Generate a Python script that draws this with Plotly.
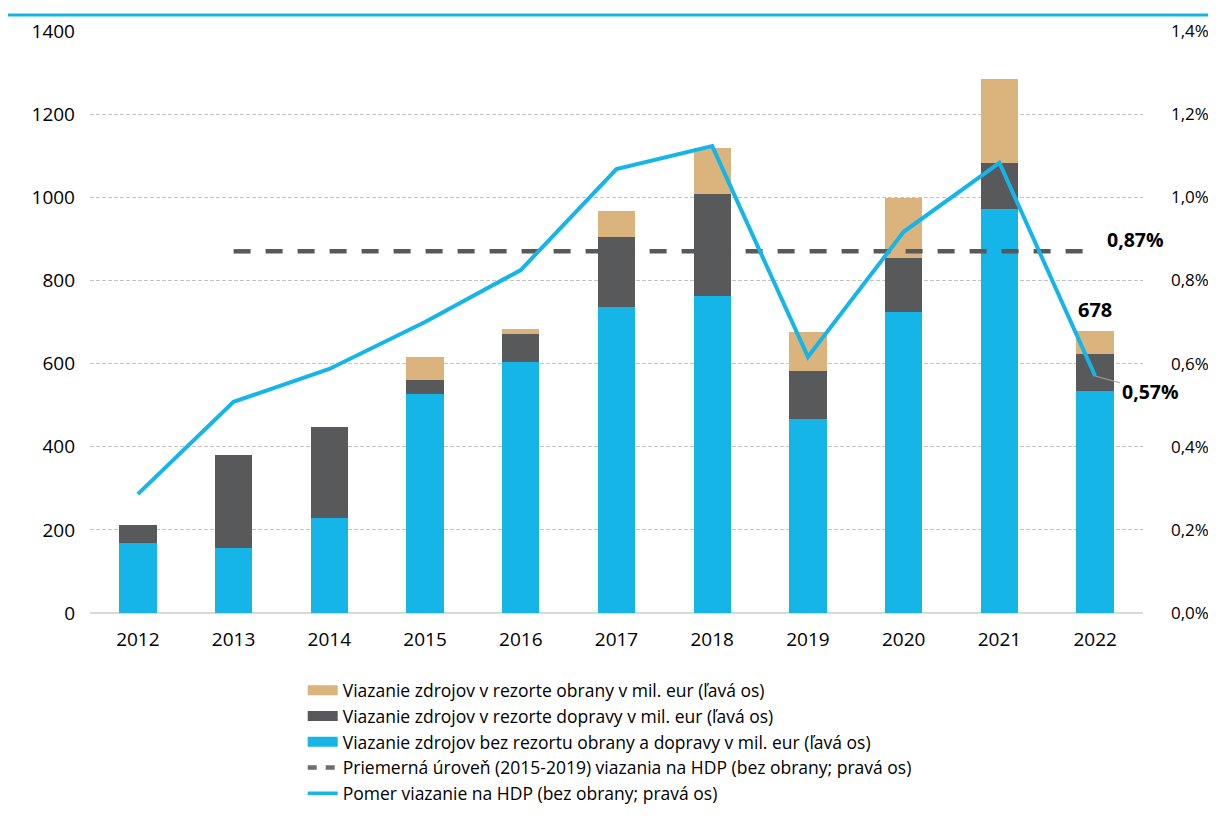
import plotly.graph_objects as go

# -- Data --
years = ["2012", "2013", "2014", "2015", "2016", "2017", "2018", "2019", "2020", "2021", "2022"]
other = [168, 156, 229, 527, 604, 736, 763, 467, 723, 971, 535]       # bez obrany a dopravy
transport = [44, 224, 218, 33, 67, 168, 245, 116, 130, 112, 88]       # rezort dopravy
defense = [0, 0, 0, 56, 12, 63, 111, 93, 146, 202, 55]               # rezort obrany
ratio_gdp = [0.286, 0.508, 0.587, 0.700, 0.825, 1.068, 1.123, 0.616, 0.917, 1.083, 0.570]  # % HDP
avg_years = years[1:]
avg_level = [0.87] * len(avg_years)

left_ticks = [0, 200, 400, 600, 800, 1000, 1200, 1400]
right_ticks = [0.0, 0.2, 0.4, 0.6, 0.8, 1.0, 1.2, 1.4]
right_labels = ["0,0%", "0,2%", "0,4%", "0,6%", "0,8%", "1,0%", "1,2%", "1,4%"]

BLUE = "#15b5e8"
DARK = "#58595b"
TAN = "#dbb37d"
FONT = "Open Sans"

NAME_DEF = "Viazanie zdrojov v rezorte obrany v mil. eur (ľavá os)"
NAME_TRA = "Viazanie zdrojov v rezorte dopravy v mil. eur (ľavá os)"
NAME_OTH = "Viazanie zdrojov bez rezortu obrany a dopravy v mil. eur (ľavá os)"
NAME_AVG = "Priemerná úroveň (2015-2019) viazania na HDP (bez obrany; pravá os)"
NAME_RAT = "Pomer viazanie na HDP (bez obrany; pravá os)"

fig = go.Figure()

# -- stacked bars (legend shown via swatch traces below) --
for vals, col, nm in [(other, BLUE, NAME_OTH), (transport, DARK, NAME_TRA), (defense, TAN, NAME_DEF)]:
    fig.add_trace(go.Bar(x=years, y=vals, name=nm, marker=dict(color=col, line_width=0),
                         showlegend=False))

fig.add_trace(go.Scatter(
    x=avg_years, y=avg_level, yaxis="y2", mode="lines", name=NAME_AVG,
    line=dict(color=DARK, width=4.5, dash="17px,15px"), showlegend=False,
))
fig.add_trace(go.Scatter(
    x=years, y=ratio_gdp, yaxis="y2", mode="lines", name=NAME_RAT,
    line=dict(color=BLUE, width=4), showlegend=False,
))

# legend swatches, wide rectangles like the original
for nm, col, w, dash in [(NAME_DEF, TAN, 11, "solid"), (NAME_TRA, DARK, 11, "solid"),
                         (NAME_OTH, BLUE, 11, "solid"), (NAME_AVG, "#6d6e70", 4.5, "9px,9px"),
                         (NAME_RAT, BLUE, 3.5, "solid")]:
    fig.add_trace(go.Scatter(x=[None], y=[None], mode="lines", name=nm,
                             line=dict(color=col, width=w, dash=dash), hoverinfo="skip"))

# -- Labels --
total_2022 = other[-1] + transport[-1] + defense[-1]
last = len(years) - 1
fig.add_annotation(x=last, y=total_2022, xref="x", yref="y", text="<b>%d</b>" % total_2022,
                   yanchor="bottom", showarrow=False, yshift=6,
                   font=dict(size=20, color="#000000", family=FONT))
fig.add_annotation(x=last, y=avg_level[-1], xref="x", yref="y2", text="<b>0,87%</b>",
                   xanchor="left", showarrow=False, xshift=10, yshift=12,
                   font=dict(size=19.5, color="#000000", family=FONT))
fig.add_annotation(x=last, y=ratio_gdp[-1], xref="x", yref="y2", text="<b>0,57%</b>",
                   showarrow=True, arrowhead=0, arrowwidth=1, arrowcolor="#a6a6a6",
                   ax=55, ay=15, font=dict(size=19.5, color="#000000", family=FONT))

# top accent line
fig.add_shape(type="line", xref="paper", yref="paper",
              x0=-0.1, x1=1.08, y0=1.0275, y1=1.0275,
              line=dict(color=BLUE, width=3))

fig.update_layout(
    barmode="stack",
    bargap=0.61,
    width=1200, height=805,
    margin=dict(l=82, r=65, t=23, b=200, autoexpand=False),
    plot_bgcolor="white", paper_bgcolor="white",
    font=dict(family=FONT, size=19, color="#000000"),
    showlegend=True,
    legend=dict(
        orientation="v", x=0.202, xanchor="left", y=-0.102, yanchor="top",
        traceorder="normal", font=dict(size=17.5, family=FONT), tracegroupgap=0,
        bgcolor="rgba(0,0,0,0)",
    ),
    xaxis=dict(
        type="category", range=[-0.5, 10.5], showline=False, ticks="",
        tickfont=dict(size=19), showgrid=False, ticklabelstandoff=13, automargin=False,
    ),
    yaxis=dict(
        range=[0, 1400], tickvals=left_ticks, tickformat="d",
        showgrid=True, gridcolor="#c4c4c4", griddash="4px,2px", gridwidth=1,
        zeroline=True, zerolinecolor="#d9d9d9", zerolinewidth=1.5, automargin=False,
        showline=False, tickfont=dict(size=19), ticks="", ticklabelstandoff=14,
    ),
    yaxis2=dict(
        range=[0, 1.4], overlaying="y", side="right",
        tickvals=right_ticks, ticktext=right_labels, automargin=False,
        showgrid=False, zeroline=False, showline=False,
        tickfont=dict(size=17), ticks="", ticklabelstandoff=27,
    ),
)

fig.write_html("out.html")
